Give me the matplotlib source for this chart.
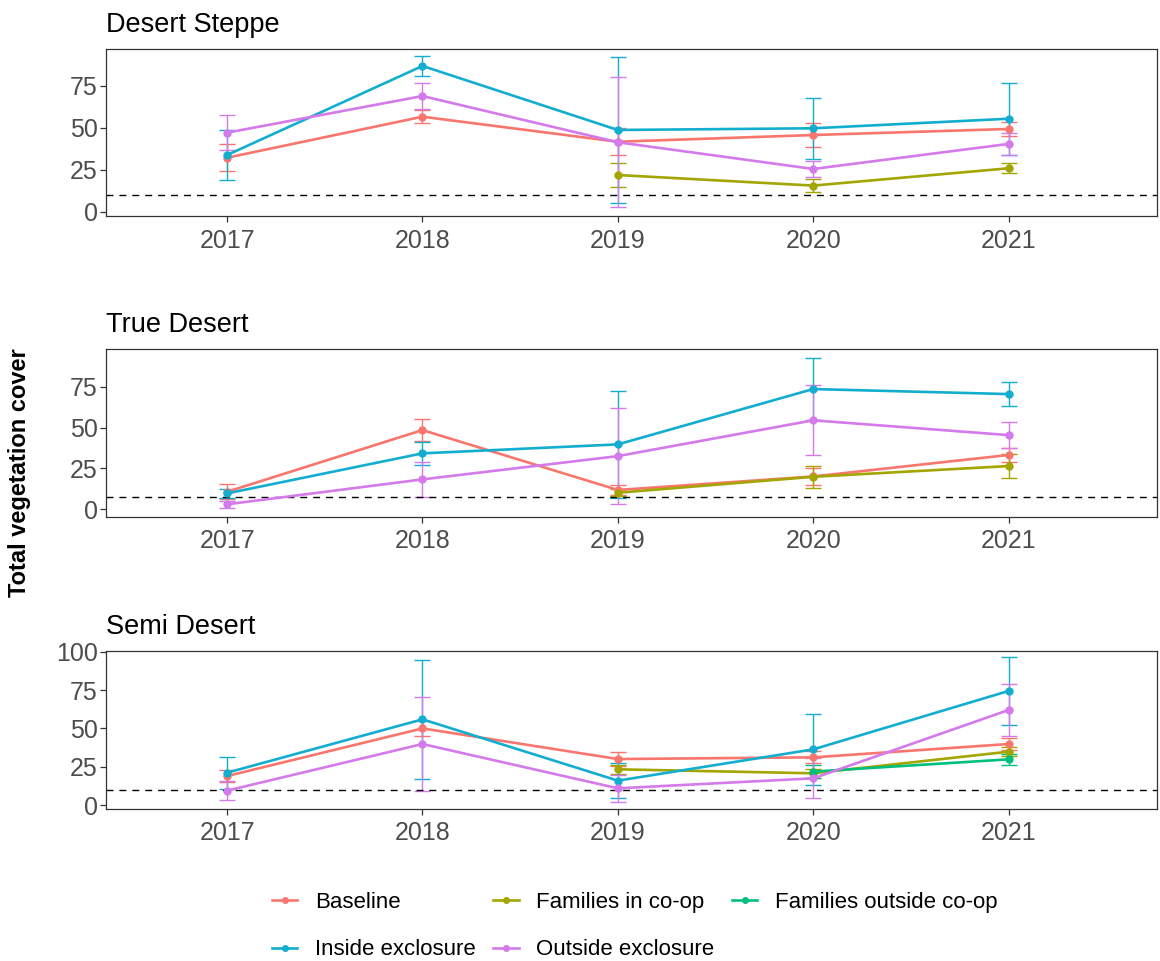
import numpy as np
import matplotlib.pyplot as plt
from matplotlib.lines import Line2D

plt.rcParams['font.family'] = ['Liberation Sans', 'DejaVu Sans']

years = [2017, 2018, 2019, 2020, 2021]
nan = np.nan

series_names = ["Baseline", "Families in co-op", "Families outside co-op",
                "Inside exclosure", "Outside exclosure"]
series_colors = ["#F8766D", "#A3A500", "#00BF7D", "#13AECF", "#D47AEB"]

# Desert Steppe: mean cover and standard error per treatment
ds_baseline = [32.3, 56.7, 41.8, 45.8, 49.4]
ds_baseline_se = [8.0, 4.0, 8.0, 7.0, 4.4]
ds_fam_in = [nan, nan, 22.0, 15.7, 26.0]
ds_fam_in_se = [nan, nan, 7.0, 4.0, 3.0]
ds_fam_out = [nan, nan, nan, nan, nan]
ds_fam_out_se = [nan, nan, nan, nan, nan]
ds_inside = [33.9, 86.9, 48.8, 49.8, 55.5]
ds_inside_se = [14.9, 6.0, 43.6, 18.2, 21.3]
ds_outside = [47.2, 69.0, 41.5, 25.6, 40.5]
ds_outside_se = [10.5, 8.0, 38.7, 5.0, 6.6]

# True Desert
td_baseline = [10.6, 48.5, 11.7, 20.0, 33.2]
td_baseline_se = [4.7, 6.6, 3.3, 5.0, 4.5]
td_fam_in = [nan, nan, 10.0, 19.8, 26.4]
td_fam_in_se = [nan, nan, 2.0, 6.7, 7.5]
td_fam_out = [nan, nan, nan, nan, nan]
td_fam_out_se = [nan, nan, nan, nan, nan]
td_inside = [9.6, 34.2, 39.7, 73.7, 70.6]
td_inside_se = [3.0, 7.0, 32.8, 19.3, 7.5]
td_outside = [2.9, 18.2, 32.5, 54.5, 45.4]
td_outside_se = [2.0, 10.6, 29.5, 21.5, 8.0]

# Semi Desert
sd_baseline = [18.9, 50.0, 30.0, 31.1, 39.8]
sd_baseline_se = [4.2, 5.0, 4.4, 4.0, 4.0]
sd_fam_in = [nan, nan, 23.3, 20.7, 34.8]
sd_fam_in_se = [nan, nan, 3.0, 3.0, 3.0]
sd_fam_out = [nan, nan, nan, 21.8, 29.8]
sd_fam_out_se = [nan, nan, nan, 4.0, 3.7]
sd_inside = [21.1, 55.9, 15.9, 36.3, 74.4]
sd_inside_se = [10.4, 38.7, 11.5, 23.0, 22.4]
sd_outside = [9.4, 39.8, 10.9, 17.4, 62.0]
sd_outside_se = [6.1, 30.8, 8.7, 13.0, 16.8]

panel_titles = ["Desert Steppe", "True Desert", "Semi Desert"]
panel_refs = [10, 7.5, 10]
panel_yticks = [[0, 25, 50, 75], [0, 25, 50, 75], [0, 25, 50, 75, 100]]
panel_ylims = [(-2.4, 97), (-4.9, 98.3), (-2.6, 100.5)]

panel_means = [
    [ds_baseline, ds_fam_in, ds_fam_out, ds_inside, ds_outside],
    [td_baseline, td_fam_in, td_fam_out, td_inside, td_outside],
    [sd_baseline, sd_fam_in, sd_fam_out, sd_inside, sd_outside],
]
panel_ses = [
    [ds_baseline_se, ds_fam_in_se, ds_fam_out_se, ds_inside_se, ds_outside_se],
    [td_baseline_se, td_fam_in_se, td_fam_out_se, td_inside_se, td_outside_se],
    [sd_baseline_se, sd_fam_in_se, sd_fam_out_se, sd_inside_se, sd_outside_se],
]

W, H = 1160, 961
fig = plt.figure(figsize=(W / 100, H / 100), dpi=100)

# panel boxes in pixels: left, top, right, bottom
boxes = [(106, 49, 1157, 216), (106, 349, 1157, 517), (106, 651, 1157, 809)]

axis_grey = "#333333"
for i, (l, t, r, b) in enumerate(boxes):
    ax = fig.add_axes([l / W, 1 - b / H, (r - l) / W, (b - t) / H])
    for name, color, vals, se in zip(series_names, series_colors,
                                     panel_means[i], panel_ses[i]):
        vals = np.array(vals, dtype=float)
        if np.all(np.isnan(vals)):
            continue
        ax.errorbar(years, vals, yerr=np.array(se, dtype=float), color=color,
                    lw=1.9, marker='o', ms=5, elinewidth=1.0, capsize=6,
                    capthick=1.0)
    ax.axhline(panel_refs[i], color='black', lw=1.0, ls=(0, (5, 4.3)))
    ax.set_xlim(2016.38, 2021.76)
    ax.set_ylim(*panel_ylims[i])
    ax.set_xticks(years)
    ax.set_yticks(panel_yticks[i])
    for s in ax.spines.values():
        s.set_color(axis_grey)
        s.set_linewidth(0.9)
    ax.tick_params(colors=axis_grey, length=4, width=0.9, labelsize=18,
                   labelcolor="#4D4D4D")
    ax.tick_params(axis='x', pad=5)
    ax.tick_params(axis='y', pad=2)
    ax.set_title(panel_titles[i], loc='left', fontsize=19.5, pad=12)

fig.text(0.017, 0.508, "Total vegetation cover", rotation=90, va='center',
         ha='center', fontweight='bold', fontsize=17)

handles = [Line2D([], [], color=c, lw=1.9, marker='o', ms=4)
           for c in series_colors]
# row-major order for a 3-column legend
order = [0, 3, 1, 4, 2]
fig.legend([handles[k] for k in order], [series_names[k] for k in order],
           ncol=3, loc='upper left', bbox_to_anchor=(272 / W, 1 - 892 / H),
           frameon=False, borderpad=0, borderaxespad=0, handlelength=1.13,
           handletextpad=0.8, columnspacing=0.8, labelspacing=1.19,
           fontsize=16)

fig.savefig("out.png", dpi=100)
